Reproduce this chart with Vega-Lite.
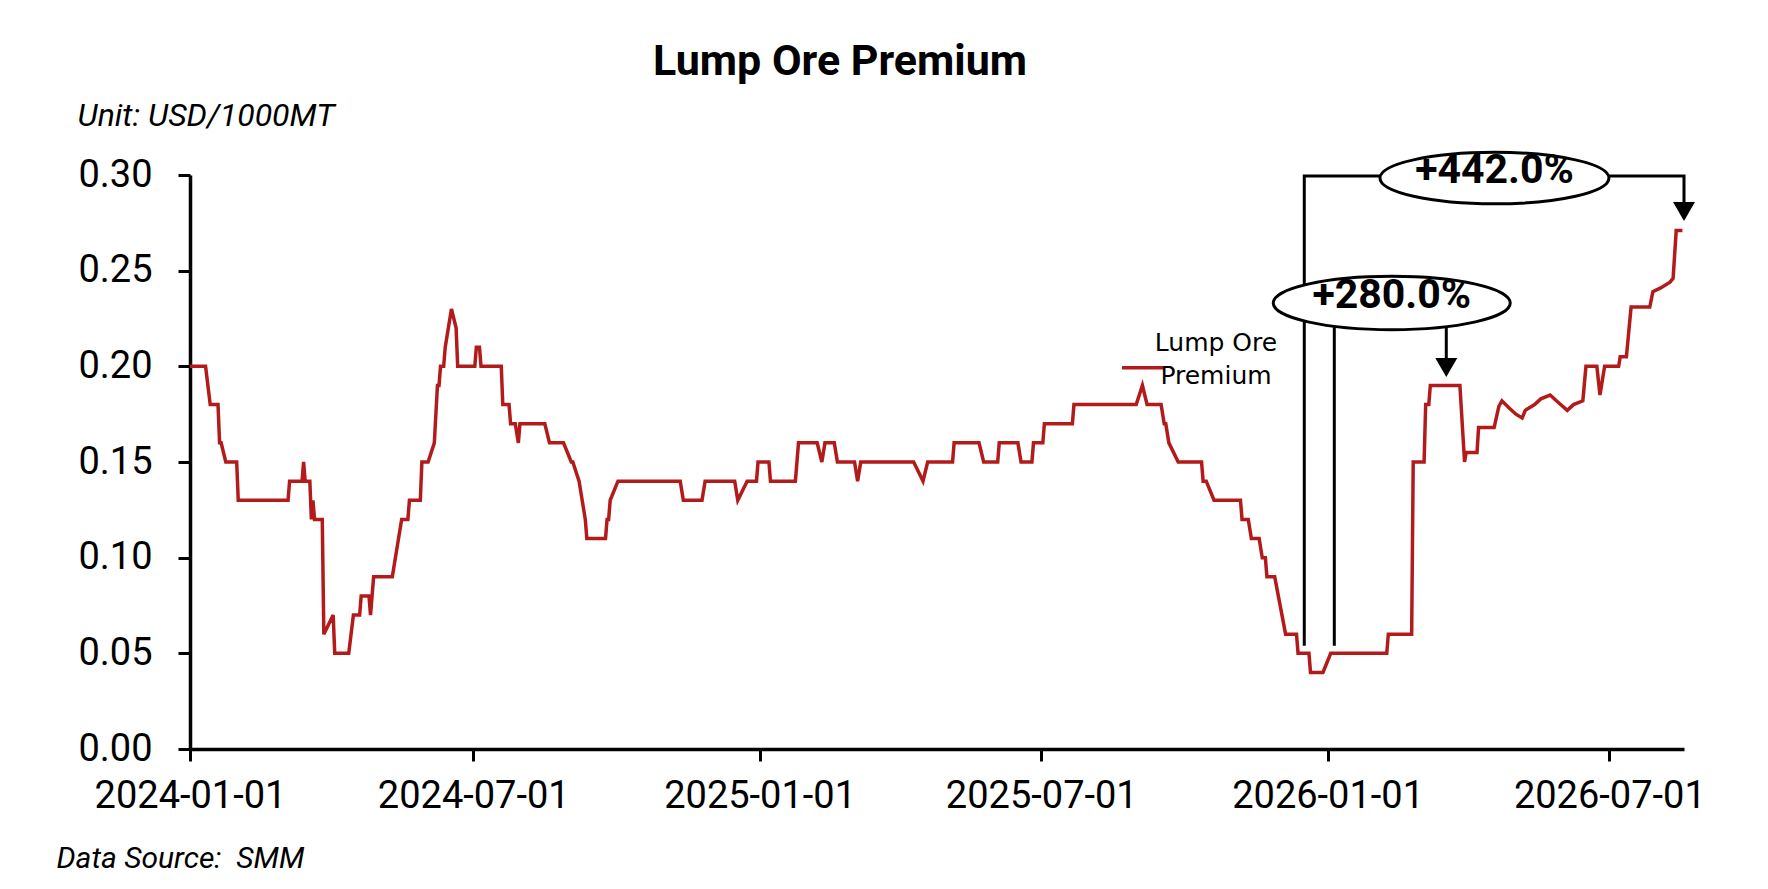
{
  "$schema": "https://vega.github.io/schema/vega-lite/v6.json",
  "width": 1494,
  "height": 574,
  "autosize": {"type": "none"},
  "padding": {"left": 190, "top": 175, "right": 84, "bottom": 140},
  "background": "white",
  "config": {
    "font": "Roboto",
    "view": {"stroke": null},
    "style": {"guide-label": {"lineHeight": 33}},
    "axis": {
      "domainColor": "black",
      "domainWidth": 3.5,
      "tickColor": "black",
      "tickWidth": 3,
      "tickSize": 12,
      "labelColor": "black",
      "labelFont": "Roboto",
      "labelFontSize": 38,
      "labelLimit": 400,
      "grid": false,
      "titleColor": "black",
      "titleFont": "Roboto",
      "titleFontStyle": "italic",
      "titleFontWeight": "normal"
    }
  },
  "title": {
    "text": "Lump Ore Premium",
    "font": "Roboto",
    "fontWeight": "bold",
    "fontSize": 43,
    "color": "black",
    "anchor": "middle",
    "frame": "group",
    "baseline": "alphabetic",
    "offset": 22,
    "dx": -97,
    "dy": 41
  },
  "datasets": {
    "premium": [
      {"date": "2024-01-01", "value": 0.20},
      {"date": "2024-01-11", "value": 0.20},
      {"date": "2024-01-14", "value": 0.18},
      {"date": "2024-01-19", "value": 0.18},
      {"date": "2024-01-20", "value": 0.16},
      {"date": "2024-01-21", "value": 0.16},
      {"date": "2024-01-24", "value": 0.15},
      {"date": "2024-01-31", "value": 0.15},
      {"date": "2024-02-01", "value": 0.13},
      {"date": "2024-03-04", "value": 0.13},
      {"date": "2024-03-05", "value": 0.14},
      {"date": "2024-03-13", "value": 0.14},
      {"date": "2024-03-14", "value": 0.15},
      {"date": "2024-03-15", "value": 0.14},
      {"date": "2024-03-18", "value": 0.14},
      {"date": "2024-03-19", "value": 0.12},
      {"date": "2024-03-20", "value": 0.13},
      {"date": "2024-03-21", "value": 0.12},
      {"date": "2024-03-26", "value": 0.12},
      {"date": "2024-03-27", "value": 0.06},
      {"date": "2024-04-02", "value": 0.07},
      {"date": "2024-04-03", "value": 0.05},
      {"date": "2024-04-12", "value": 0.05},
      {"date": "2024-04-15", "value": 0.07},
      {"date": "2024-04-19", "value": 0.07},
      {"date": "2024-04-20", "value": 0.08},
      {"date": "2024-04-25", "value": 0.08},
      {"date": "2024-04-26", "value": 0.07},
      {"date": "2024-04-28", "value": 0.09},
      {"date": "2024-05-10", "value": 0.09},
      {"date": "2024-05-14", "value": 0.11},
      {"date": "2024-05-16", "value": 0.12},
      {"date": "2024-05-20", "value": 0.12},
      {"date": "2024-05-21", "value": 0.13},
      {"date": "2024-05-28", "value": 0.13},
      {"date": "2024-05-29", "value": 0.15},
      {"date": "2024-06-02", "value": 0.15},
      {"date": "2024-06-06", "value": 0.16},
      {"date": "2024-06-08", "value": 0.19},
      {"date": "2024-06-09", "value": 0.19},
      {"date": "2024-06-10", "value": 0.20},
      {"date": "2024-06-12", "value": 0.20},
      {"date": "2024-06-13", "value": 0.21},
      {"date": "2024-06-17", "value": 0.23},
      {"date": "2024-06-20", "value": 0.22},
      {"date": "2024-06-21", "value": 0.20},
      {"date": "2024-07-02", "value": 0.20},
      {"date": "2024-07-03", "value": 0.21},
      {"date": "2024-07-05", "value": 0.21},
      {"date": "2024-07-06", "value": 0.20},
      {"date": "2024-07-19", "value": 0.20},
      {"date": "2024-07-20", "value": 0.18},
      {"date": "2024-07-24", "value": 0.18},
      {"date": "2024-07-25", "value": 0.17},
      {"date": "2024-07-28", "value": 0.17},
      {"date": "2024-07-30", "value": 0.16},
      {"date": "2024-07-31", "value": 0.17},
      {"date": "2024-08-16", "value": 0.17},
      {"date": "2024-08-19", "value": 0.16},
      {"date": "2024-08-28", "value": 0.16},
      {"date": "2024-09-02", "value": 0.15},
      {"date": "2024-09-03", "value": 0.15},
      {"date": "2024-09-07", "value": 0.14},
      {"date": "2024-09-09", "value": 0.13},
      {"date": "2024-09-11", "value": 0.12},
      {"date": "2024-09-12", "value": 0.11},
      {"date": "2024-09-24", "value": 0.11},
      {"date": "2024-09-25", "value": 0.12},
      {"date": "2024-09-26", "value": 0.12},
      {"date": "2024-09-27", "value": 0.13},
      {"date": "2024-10-02", "value": 0.14},
      {"date": "2024-11-11", "value": 0.14},
      {"date": "2024-11-13", "value": 0.13},
      {"date": "2024-11-25", "value": 0.13},
      {"date": "2024-11-27", "value": 0.14},
      {"date": "2024-12-16", "value": 0.14},
      {"date": "2024-12-18", "value": 0.13},
      {"date": "2024-12-24", "value": 0.14},
      {"date": "2024-12-30", "value": 0.14},
      {"date": "2024-12-31", "value": 0.15},
      {"date": "2025-01-07", "value": 0.15},
      {"date": "2025-01-08", "value": 0.14},
      {"date": "2025-01-24", "value": 0.14},
      {"date": "2025-01-26", "value": 0.16},
      {"date": "2025-02-07", "value": 0.16},
      {"date": "2025-02-10", "value": 0.15},
      {"date": "2025-02-12", "value": 0.16},
      {"date": "2025-02-18", "value": 0.16},
      {"date": "2025-02-20", "value": 0.15},
      {"date": "2025-03-03", "value": 0.15},
      {"date": "2025-03-05", "value": 0.14},
      {"date": "2025-03-07", "value": 0.15},
      {"date": "2025-04-10", "value": 0.15},
      {"date": "2025-04-16", "value": 0.14},
      {"date": "2025-04-19", "value": 0.15},
      {"date": "2025-05-05", "value": 0.15},
      {"date": "2025-05-06", "value": 0.16},
      {"date": "2025-05-22", "value": 0.16},
      {"date": "2025-05-25", "value": 0.15},
      {"date": "2025-06-03", "value": 0.15},
      {"date": "2025-06-04", "value": 0.16},
      {"date": "2025-06-16", "value": 0.16},
      {"date": "2025-06-18", "value": 0.15},
      {"date": "2025-06-25", "value": 0.15},
      {"date": "2025-06-26", "value": 0.16},
      {"date": "2025-07-02", "value": 0.16},
      {"date": "2025-07-03", "value": 0.17},
      {"date": "2025-07-21", "value": 0.17},
      {"date": "2025-07-22", "value": 0.18},
      {"date": "2025-08-31", "value": 0.18},
      {"date": "2025-09-04", "value": 0.19},
      {"date": "2025-09-07", "value": 0.18},
      {"date": "2025-09-16", "value": 0.18},
      {"date": "2025-09-18", "value": 0.17},
      {"date": "2025-09-19", "value": 0.17},
      {"date": "2025-09-21", "value": 0.16},
      {"date": "2025-09-27", "value": 0.15},
      {"date": "2025-10-12", "value": 0.15},
      {"date": "2025-10-13", "value": 0.14},
      {"date": "2025-10-15", "value": 0.14},
      {"date": "2025-10-20", "value": 0.13},
      {"date": "2025-11-06", "value": 0.13},
      {"date": "2025-11-07", "value": 0.12},
      {"date": "2025-11-11", "value": 0.12},
      {"date": "2025-11-13", "value": 0.11},
      {"date": "2025-11-18", "value": 0.11},
      {"date": "2025-11-20", "value": 0.10},
      {"date": "2025-11-22", "value": 0.10},
      {"date": "2025-11-23", "value": 0.09},
      {"date": "2025-11-28", "value": 0.09},
      {"date": "2025-12-05", "value": 0.06},
      {"date": "2025-12-12", "value": 0.06},
      {"date": "2025-12-13", "value": 0.05},
      {"date": "2025-12-20", "value": 0.05},
      {"date": "2025-12-21", "value": 0.04},
      {"date": "2025-12-29", "value": 0.04},
      {"date": "2026-01-03", "value": 0.05},
      {"date": "2026-02-08", "value": 0.05},
      {"date": "2026-02-09", "value": 0.06},
      {"date": "2026-02-24", "value": 0.06},
      {"date": "2026-02-25", "value": 0.15},
      {"date": "2026-03-04", "value": 0.15},
      {"date": "2026-03-05", "value": 0.18},
      {"date": "2026-03-07", "value": 0.18},
      {"date": "2026-03-08", "value": 0.19},
      {"date": "2026-03-27", "value": 0.19},
      {"date": "2026-03-30", "value": 0.15},
      {"date": "2026-03-31", "value": 0.155},
      {"date": "2026-04-07", "value": 0.155},
      {"date": "2026-04-08", "value": 0.168},
      {"date": "2026-04-18", "value": 0.168},
      {"date": "2026-04-21", "value": 0.179},
      {"date": "2026-04-23", "value": 0.182},
      {"date": "2026-04-28", "value": 0.178},
      {"date": "2026-05-02", "value": 0.175},
      {"date": "2026-05-06", "value": 0.173},
      {"date": "2026-05-08", "value": 0.177},
      {"date": "2026-05-14", "value": 0.18},
      {"date": "2026-05-18", "value": 0.183},
      {"date": "2026-05-24", "value": 0.185},
      {"date": "2026-05-28", "value": 0.182},
      {"date": "2026-06-04", "value": 0.177},
      {"date": "2026-06-08", "value": 0.18},
      {"date": "2026-06-14", "value": 0.182},
      {"date": "2026-06-16", "value": 0.20},
      {"date": "2026-06-23", "value": 0.20},
      {"date": "2026-06-25", "value": 0.185},
      {"date": "2026-06-28", "value": 0.20},
      {"date": "2026-07-07", "value": 0.20},
      {"date": "2026-07-08", "value": 0.205},
      {"date": "2026-07-12", "value": 0.205},
      {"date": "2026-07-15", "value": 0.231},
      {"date": "2026-07-27", "value": 0.231},
      {"date": "2026-07-29", "value": 0.239},
      {"date": "2026-08-03", "value": 0.241},
      {"date": "2026-08-09", "value": 0.244},
      {"date": "2026-08-11", "value": 0.246},
      {"date": "2026-08-13", "value": 0.271},
      {"date": "2026-08-17", "value": 0.271}
    ],
    "brackets": [
      {"bracket": "442", "seq": 1, "date": "2025-12-17T00:00", "value": 0.054},
      {"bracket": "442", "seq": 2, "date": "2025-12-17T00:00", "value": 0.2995},
      {"bracket": "442", "seq": 3, "date": "2026-08-18T00:00", "value": 0.2995},
      {"bracket": "442", "seq": 4, "date": "2026-08-18T00:00", "value": 0.283},
      {"bracket": "280", "seq": 1, "date": "2026-01-05T07:00", "value": 0.054},
      {"bracket": "280", "seq": 2, "date": "2026-01-05T07:00", "value": 0.233},
      {"bracket": "280", "seq": 3, "date": "2026-03-18T06:00", "value": 0.233},
      {"bracket": "280", "seq": 4, "date": "2026-03-18T06:00", "value": 0.202}
    ],
    "arrows": [
      {"date": "2026-08-18T00:00", "value": 0.2809},
      {"date": "2026-03-18T06:00", "value": 0.1994}
    ],
    "ovals": [
      {"label": "+442.0%", "date": "2026-04-18T05:00", "value": 0.2984},
      {"label": "+280.0%", "date": "2026-02-11T05:00", "value": 0.2331}
    ]
  },
  "layer": [
    {
      "data": {"name": "premium", "format": {"parse": {"date": "date:'%Y-%m-%d'"}}},
      "mark": {"type": "line", "strokeWidth": 3.5},
      "encoding": {
        "x": {
          "field": "date",
          "type": "temporal",
          "scale": {"domain": [{"year": 2024, "month": 1, "date": 1}, {"year": 2026, "month": 8, "date": 18}]},
          "axis": {
            "values": [
              {"year": 2024, "month": 1, "date": 1},
              {"year": 2024, "month": 7, "date": 1},
              {"year": 2025, "month": 1, "date": 1},
              {"year": 2025, "month": 7, "date": 1},
              {"year": 2026, "month": 1, "date": 1},
              {"year": 2026, "month": 7, "date": 1}
            ],
            "format": "%Y-%m-%d",
            "labelPadding": 16,
            "labelFlush": false,
            "labelOverlap": false,
            "title": "Data Source: \u00a0SMM",
            "titleFontSize": 30,
            "titleAlign": "left",
            "titleBaseline": "alphabetic",
            "titleX": -134,
            "titleY": 118
          }
        },
        "y": {
          "field": "value",
          "type": "quantitative",
          "scale": {"domain": [0, 0.3]},
          "axis": {
            "values": [0, 0.05, 0.1, 0.15, 0.2, 0.25, 0.3],
            "format": ".2f",
            "labelPadding": 26,
            "title": "Unit: USD/1000MT",
            "titleFontSize": 32,
            "titleAngle": 0,
            "titleAlign": "left",
            "titleBaseline": "alphabetic",
            "titleX": -113,
            "titleY": -50
          }
        },
        "color": {
          "datum": "Lump Ore Premium",
          "type": "nominal",
          "scale": {"range": ["#b31b1b"]},
          "legend": {
            "orient": "none",
            "legendX": 930,
            "legendY": 153,
            "title": null,
            "padding": 0,
            "symbolType": "M-1,0.8L1,0.8",
            "symbolStrokeWidth": 3.5,
            "symbolSize": 1764,
            "labelFont": "DejaVu Sans",
            "labelFontSize": 25,
            "labelColor": "black",
            "labelLimit": 400,
            "labelAlign": "center",
            "labelBaseline": "alphabetic",
            "labelOffset": 50,
            "labelExpr": "['Lump Ore', 'Premium']"
          }
        }
      }
    },
    {
      "data": {"name": "brackets"},
      "mark": {"type": "line", "color": "black", "strokeWidth": 3},
      "encoding": {
        "x": {"field": "date", "type": "temporal"},
        "y": {"field": "value", "type": "quantitative"},
        "detail": {"field": "bracket"},
        "order": {"field": "seq"}
      }
    },
    {
      "data": {"name": "arrows"},
      "mark": {"type": "point", "shape": "triangle-down", "filled": true, "color": "black", "opacity": 1, "size": 484},
      "encoding": {
        "x": {"field": "date", "type": "temporal"},
        "y": {"field": "value", "type": "quantitative"}
      }
    },
    {
      "data": {"name": "ovals"},
      "mark": {
        "type": "point",
        "shape": "M-1,0A1,0.225,0,1,1,1,0A1,0.225,0,1,1,-1,0Z",
        "filled": true,
        "fill": "white",
        "stroke": "black",
        "strokeWidth": 3,
        "opacity": 1
      },
      "encoding": {
        "x": {"field": "date", "type": "temporal"},
        "y": {"field": "value", "type": "quantitative"},
        "size": {"condition": {"test": "datum.label === '+442.0%'", "value": 52441}, "value": 56169}
      }
    },
    {
      "data": {"name": "ovals"},
      "mark": {"type": "text", "font": "Roboto", "fontWeight": "bold", "fontSize": 41, "color": "black", "baseline": "middle", "dy": -7},
      "encoding": {
        "x": {"field": "date", "type": "temporal"},
        "y": {"field": "value", "type": "quantitative"},
        "text": {"field": "label"}
      }
    }
  ]
}
